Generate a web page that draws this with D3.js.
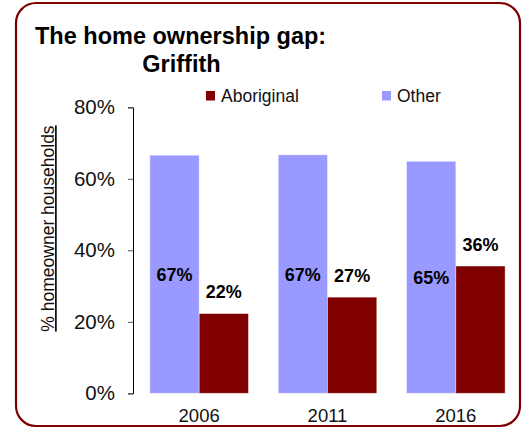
<!DOCTYPE html>
<html><head><meta charset="utf-8">
<script src="https://cdn.jsdelivr.net/npm/d3@7"></script>
<style>
body{margin:0;background:#fff;}
text{font-family:"Liberation Sans",Arial,sans-serif;}
</style></head>
<body><svg id="c" width="528" height="428"></svg>
<script>
const years = ["2006","2011","2016"];
const series = ["Other","Aboriginal"];
const otherValues = [0.666, 0.667, 0.649];
const aboriginalValues = [0.223, 0.269, 0.356];
const yTicks = [0, 0.2, 0.4, 0.6, 0.8];
const colors = {Other:"#9999FF", Aboriginal:"#800000"};
const legendOrder = ["Aboriginal","Other"];

const svg = d3.select("#c");
svg.append("rect").attr("x",16).attr("y",3).attr("width",504).attr("height",423)
  .attr("rx",20).attr("ry",20).attr("fill","#fff").attr("stroke","#800000").attr("stroke-width",2.2);

svg.append("text").attr("x",35).attr("y",44).attr("font-size",23.5).attr("font-weight","bold")
  .text("The home ownership gap:");
svg.append("text").attr("x",181.5).attr("y",72).attr("font-size",23.5).attr("font-weight","bold")
  .attr("text-anchor","middle").text("Griffith");

const y = d3.scaleLinear().domain([0,0.8]).range([393.3,107.3]);
const x0 = d3.scaleBand().domain(years).range([135,520]).paddingInner(0.232).paddingOuter(0.116);
const x1 = d3.scaleBand().domain(series).range([0,x0.bandwidth()]);

const yAxis = svg.append("g").attr("transform","translate(133,0)")
  .call(d3.axisLeft(y).tickValues(yTicks).tickFormat(d3.format(".0%")).tickSizeOuter(0).tickSize(5).tickPadding(13));
yAxis.select(".domain").attr("stroke","#000");
yAxis.selectAll(".tick line").attr("stroke","#555");
yAxis.selectAll(".tick text").attr("font-size",20.5).attr("fill","#111").attr("font-family","Liberation Sans, Arial, sans-serif");

svg.append("text").attr("transform","translate(54,228.5) rotate(-90)").attr("text-anchor","middle")
  .attr("font-size",17.5).attr("text-decoration","underline").attr("fill","#111").text("% homeowner households");

const rows = years.map((yr,i)=>({year:yr, Other:otherValues[i], Aboriginal:aboriginalValues[i]}));
const g = svg.selectAll("g.grp").data(rows).join("g").attr("class","grp")
  .attr("transform",d=>`translate(${x0(d.year)},0)`);
g.selectAll("rect").data(d=>series.map(s=>({s, v:d[s]}))).join("rect")
  .attr("x",d=>x1(d.s)).attr("width",x1.bandwidth())
  .attr("y",d=>y(d.v)).attr("height",d=>y(0)-y(d.v))
  .attr("fill",d=>colors[d.s]).attr("stroke","rgba(255,255,255,0.5)").attr("stroke-width",0.8);
g.selectAll("text.lbl").data(d=>series.map(s=>({s, v:d[s]}))).join("text").attr("class","lbl")
  .attr("x",d=>x1(d.s)+x1.bandwidth()/2)
  .attr("y",d=>d.s==="Other" ? (y(d.v)+y(0))/2 + 6.5 : y(d.v)-15.5)
  .attr("text-anchor","middle").attr("font-size",18).attr("font-weight","bold").attr("fill","#000")
  .text(d=>d3.format(".0%")(d.v));

svg.selectAll("text.xl").data(years).join("text").attr("class","xl")
  .attr("x",d=>x0(d)+x0.bandwidth()/2).attr("y",421.5).attr("text-anchor","middle")
  .attr("font-size",18.5).attr("fill","#111").text(d=>d);

const legendX = {Aboriginal:206, Other:382};
const lg = svg.selectAll("g.lg").data(legendOrder).join("g").attr("class","lg")
  .attr("transform",d=>`translate(${legendX[d]},91)`);
lg.append("rect").attr("width",9).attr("height",9.5).attr("fill",d=>colors[d]);
lg.append("text").attr("x",15).attr("y",10.5).attr("font-size",17.5).attr("fill","#111").text(d=>d);
</script></body></html>
